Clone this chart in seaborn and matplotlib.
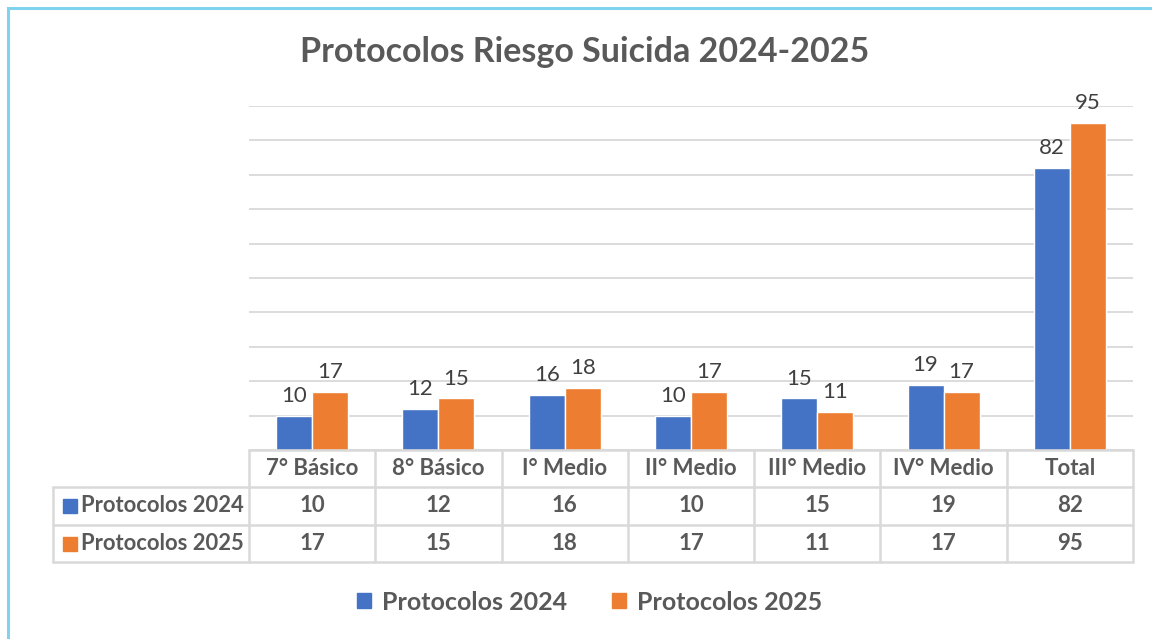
import pandas as pd
import seaborn as sns
import matplotlib.pyplot as plt
from matplotlib.lines import Line2D
from matplotlib.patches import Patch, Rectangle

# data
categorias = ["7° Básico", "8° Básico", "I° Medio", "II° Medio", "III° Medio", "IV° Medio", "Total"]
series = ["Protocolos 2024", "Protocolos 2025"]
valores_2024 = [10, 12, 16, 10, 15, 19, 82]
valores_2025 = [17, 15, 18, 17, 11, 17, 95]
colores = ["#4472C4", "#ED7D31"]

df = pd.DataFrame({
    "categoria": categorias * 2,
    "serie": [series[0]] * len(categorias) + [series[1]] * len(categorias),
    "valor": valores_2024 + valores_2025,
})

sns.set_theme(style="white")
plt.rcParams["font.family"] = ["Lato", "DejaVu Sans"]

W, H = 1152, 639
fig = plt.figure(figsize=(W / 100, H / 100), dpi=100)

def fx(px):
    return px / W

def fy(py):
    return 1 - py / H

# plot area
x0, x1, ytop, ybase = 249, 1133, 106, 450
ax = fig.add_axes([fx(x0), fy(ybase), fx(x1) - fx(x0), fy(ytop) - fy(ybase)])
sns.barplot(data=df, x="categoria", y="valor", hue="serie", palette=colores,
            width=0.57, gap=0, ax=ax, legend=False, saturation=1)
ax.set_ylim(0, 100)
ax.set_xlim(-0.5, len(categorias) - 0.5)
ax.set_yticks(range(0, 101, 10))
ax.grid(axis="y", color="#D9D9D9", linewidth=1.3)
ax.set_axisbelow(True)
ax.set_xticks([])
ax.set_yticklabels([])
ax.tick_params(left=False, bottom=False)
ax.set_xlabel("")
ax.set_ylabel("")
for s in ax.spines.values():
    s.set_visible(False)
for cont in ax.containers:
    ax.bar_label(cont, padding=7, fontsize=16, color="#404040")

fig.text(fx(585), fy(52), "Protocolos Riesgo Suicida 2024-2025", ha="center", va="center",
         fontsize=24.5, fontweight="bold", color="#595959")

# data table
line_c = "#D9D9D9"
col_w = (x1 - x0) / len(categorias)
rows = [450, 487, 525, 562]
tl = 53

def hline(xa, xb, y):
    fig.add_artist(Line2D([fx(xa), fx(xb)], [fy(y), fy(y)], color=line_c, lw=1.8))

def vline(x, ya, yb):
    fig.add_artist(Line2D([fx(x), fx(x)], [fy(ya), fy(yb)], color=line_c, lw=1.8))

hline(x0, x1, rows[0])
for y in rows[1:]:
    hline(tl, x1, y)
vline(tl, rows[1], rows[3])
for i in range(len(categorias) + 1):
    vline(x0 + i * col_w, rows[0], rows[3])

txt = dict(ha="center", va="center", fontsize=16, fontweight="bold", color="#595959")
for i, cat in enumerate(categorias):
    cx = x0 + (i + 0.5) * col_w
    fig.text(fx(cx), fy((rows[0] + rows[1]) / 2), cat, **txt)
    fig.text(fx(cx), fy((rows[1] + rows[2]) / 2), str(valores_2024[i]), **txt)
    fig.text(fx(cx), fy((rows[2] + rows[3]) / 2), str(valores_2025[i]), **txt)

for r, (name, col) in enumerate(zip(series, colores)):
    yc = (rows[r + 1] + rows[r + 2]) / 2
    fig.add_artist(Rectangle((fx(63), fy(yc + 7)), fx(14), 14 / H, color=col))
    fig.text(fx(81), fy(yc), name, ha="left", va="center", fontsize=15.8,
             fontweight="bold", color="#595959")

# legend
handles = [Patch(color=c, label=s) for s, c in zip(series, colores)]
leg = fig.legend(handles=handles, loc="center", bbox_to_anchor=(fx(590), fy(602)), ncol=2,
                 frameon=False, handlelength=0.55, handleheight=0.55, handletextpad=0.45,
                 columnspacing=1.8, prop={"size": 18, "weight": "bold"})
for t in leg.get_texts():
    t.set_color("#595959")

# outer border
fig.add_artist(Rectangle((fx(8), -0.1), 1.2, fy(8) + 0.1, fill=False,
                         edgecolor="#7FD3EE", lw=2.2))

fig.savefig("out.png", dpi=100)
